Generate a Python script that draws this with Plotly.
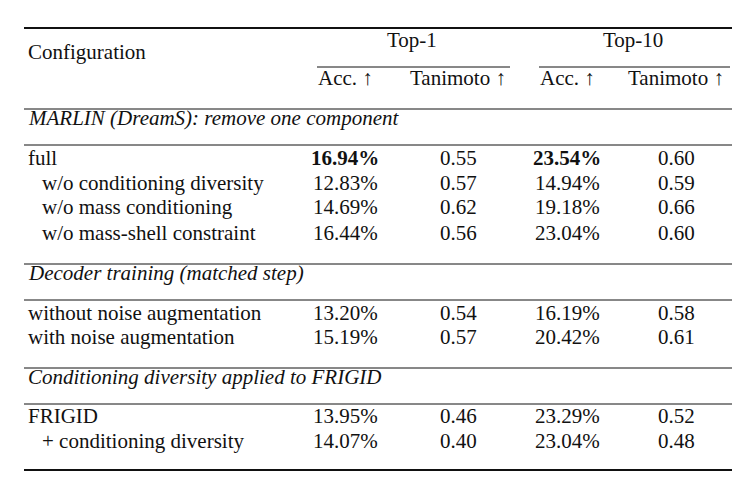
import plotly.graph_objects as go

# Table content
groups = ["Top-1", "Top-10"]
subheaders = ["Acc. ↑", "Tanimoto ↑", "Acc. ↑", "Tanimoto ↑"]
sections = ["MARLIN (DreamS): remove one component",
            "Decoder training (matched step)",
            "Conditioning diversity applied to FRIGID"]
row_labels = [
    ["full", "  w/o conditioning diversity", "  w/o mass conditioning", "  w/o mass-shell constraint"],
    ["without noise augmentation", "with noise augmentation"],
    ["FRIGID", "  + conditioning diversity"],
]
top1_acc = [["<b>16.94%</b>", "12.83%", "14.69%", "16.44%"], ["13.20%", "15.19%"], ["13.95%", "14.07%"]]
top1_tan = [["0.55", "0.57", "0.62", "0.56"], ["0.54", "0.57"], ["0.46", "0.40"]]
top10_acc = [["<b>23.54%</b>", "14.94%", "19.18%", "23.04%"], ["16.19%", "20.42%"], ["23.29%", "23.04%"]]
top10_tan = [["0.60", "0.59", "0.66", "0.60"], ["0.58", "0.61"], ["0.52", "0.48"]]

col_x = [337, 450, 559, 668]
group_x = [(313, 508), (535, 728)]
font = dict(family="Liberation Serif, Times New Roman, serif", size=21, color="#111")

fig = go.Figure()
ann = []
shapes = []

def text(x, y, s, anchor="center", italic=False):
    if italic:
        s = "<i>" + s + "</i>"
    ann.append(dict(x=x, y=y - 8, text=s, showarrow=False, xanchor=anchor,
                    yanchor="middle", font=font, xref="x", yref="y"))

def rule(y, x0=16, x1=724, w=1):
    shapes.append(dict(type="line", x0=x0, x1=x1, y0=y, y1=y, xref="x", yref="y",
                       line=dict(color="#111", width=w)))

rule(20, w=2)
text(18, 52, "Configuration", "left")
for g, (a, b) in zip(groups, group_x):
    text((a + b) / 2 - 7, 40, g)
    rule(59, a - 4, b - 6, 1)
for s, x in zip(subheaders, col_x):
    text(x, 78, s)
rule(101)

sec_y = [118, 273, 377]
row_y = [[158, 183, 207, 233], [313, 337], [416, 441]]
after = [256, 360, None]
for i, sec in enumerate(sections):
    text(18, sec_y[i], sec, "left", italic=True)
    rule(sec_y[i] + 19)
    for j, lab in enumerate(row_labels[i]):
        y = row_y[i][j]
        indent = lab.startswith("  ")
        text(32 if indent else 18, y, lab.strip(), "left")
        for x, vals in zip(col_x, [top1_acc, top1_tan, top10_acc, top10_tan]):
            text(x, y, vals[i][j])
    if after[i]:
        rule(after[i])
rule(462, w=2)

fig.update_layout(
    width=750, height=484, margin=dict(l=0, r=0, t=0, b=0),
    plot_bgcolor="white", paper_bgcolor="white",
    xaxis=dict(range=[0, 750], visible=False, fixedrange=True),
    yaxis=dict(range=[484, 0], visible=False, fixedrange=True),
    annotations=ann, shapes=shapes, showlegend=False,
)
fig.write_html("out.html")
